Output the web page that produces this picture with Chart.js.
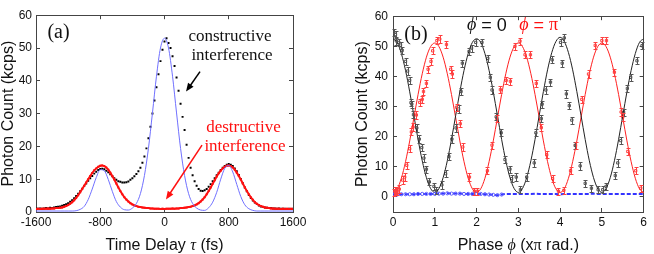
<!DOCTYPE html>
<html>
<head>
<meta charset="utf-8">
<script src="https://cdn.jsdelivr.net/npm/chart.js@4.4.1/dist/chart.umd.min.js"></script>
<style>
  html, body { margin: 0; padding: 0; background: #fff; }
  #wrap { position: relative; width: 654px; height: 254px; }
  canvas { position: absolute; top: 0; }
  #chartA { left: 0; }
  #chartB { left: 330px; }
</style>
</head>
<body>
<div id="wrap">
  <canvas id="chartA" width="330" height="254"></canvas>
  <canvas id="chartB" width="324" height="254"></canvas>
</div>
<script>
// ---- panel (a): time delay scan ----
const delayFs = [
  -1600,-1575,-1550,-1525,-1500,-1475,-1450,-1425,
  -1400,-1375,-1350,-1325,-1300,-1275,-1250,-1225,
  -1200,-1175,-1150,-1125,-1100,-1075,-1050,-1025,
  -1000,-975,-950,-925,-900,-875,-850,-825,
  -800,-775,-750,-725,-700,-675,-650,-625,
  -600,-575,-550,-525,-500,-475,-450,-425,
  -400,-375,-350,-325,-300,-275,-250,-225,
  -200,-175,-150,-125,-100,-75,-50,-25,
  0,25,50,75,100,125,150,175,
  200,225,250,275,300,325,350,375,
  400,425,450,475,500,525,550,575,
  600,625,650,675,700,725,750,775,
  800,825,850,875,900,925,950,975,
  1000,1025,1050,1075,1100,1125,1150,1175,
  1200,1225,1250,1275,1300,1325,1350,1375,
  1400,1425,1450,1475,1500,1525,1550,1575,
  1600
]
const constructive = [
  1.0,1.0,1.1,1.0,1.1,1.2,1.1,1.3,
  1.2,1.4,1.5,1.6,1.7,1.9,2.1,2.4,
  2.7,3.1,3.6,4.2,4.9,5.6,6.3,7.1,
  7.9,8.7,9.5,10.3,11.0,11.7,12.3,12.8,
  13.1,13.2,13.0,12.6,12.1,11.5,10.9,10.3,
  9.8,9.4,9.2,9.0,9.0,9.1,9.3,9.8,
  10.3,10.9,11.6,12.4,13.5,15.0,16.9,19.4,
  22.5,26.0,30.0,34.0,38.0,42.0,46.0,49.5,
  52.0,53.0,51.5,50.0,47.5,44.5,41.0,37.0,
  33.0,29.0,25.0,20.5,16.5,13.5,11.2,9.4,
  8.0,7.0,6.5,6.4,6.6,7.0,7.7,8.5,
  9.4,10.3,11.2,12.0,12.8,13.5,14.0,14.4,
  14.6,14.4,14.0,13.3,12.4,11.3,10.1,8.8,
  7.5,6.3,5.2,4.3,3.5,2.9,2.4,2.0,
  1.7,1.5,1.4,1.3,1.2,1.2,1.1,1.1,
  1.0,1.1,1.0,1.0,1.0,0.9,1.0,0.9,
  1.0
]
const destructive = [
  0.9,1.0,0.9,1.0,1.0,1.0,1.1,1.0,
  1.1,1.1,1.2,1.2,1.3,1.4,1.6,1.8,
  2.1,2.5,3.0,3.6,4.3,5.1,6.0,7.0,
  8.0,9.0,10.0,11.0,11.9,12.7,13.3,13.8,
  14.1,14.2,14.0,13.6,12.9,12.0,11.0,9.9,
  8.7,7.5,6.4,5.4,4.5,3.8,3.2,2.7,
  2.3,2.0,1.8,1.6,1.5,1.4,1.3,1.2,
  1.2,1.1,1.1,1.0,1.0,1.0,0.9,1.0,
  0.9,1.0,1.0,1.0,1.1,1.0,1.1,1.1,
  1.2,1.2,1.3,1.4,1.5,1.6,1.8,2.0,
  2.3,2.7,3.2,3.8,4.5,5.4,6.4,7.5,
  8.6,9.7,10.8,11.8,12.6,13.3,13.8,14.1,
  14.2,14.0,13.6,12.9,12.0,11.0,9.9,8.7,
  7.5,6.4,5.4,4.5,3.7,3.0,2.5,2.1,
  1.8,1.6,1.4,1.3,1.2,1.1,1.1,1.0,
  1.0,1.0,0.9,1.0,0.9,1.0,0.9,1.0,
  0.9
]
const fitDelayFs = [
  -1600,-1550,-1500,-1450,-1400,-1350,-1300,-1250,
  -1200,-1150,-1100,-1050,-1000,-950,-900,-850,
  -800,-750,-700,-650,-600,-550,-500,-450,
  -400,-350,-300,-250,-200,-150,-100,-50,
  0,50,100,150,200,250,300,350,
  400,450,500,550,600,650,700,750,
  800,850,900,950,1000,1050,1100,1150,
  1200,1250,1300,1350,1400,1450,1500,1550,
  1600
]
const fitCount = [
  0.3,0.3,0.3,0.3,0.3,0.3,0.3,0.3,
  0.3,0.3,0.4,0.8,1.7,3.8,7.0,10.5,
  12.9,12.6,9.9,6.3,3.2,1.5,0.7,0.6,
  1.2,2.6,5.6,11.1,19.4,30.2,41.4,50.0,
  53.0,50.0,41.4,30.2,19.4,11.1,5.6,2.6,
  1.2,0.6,0.5,1.3,3.0,6.0,10.0,13.3,
  14.2,12.2,8.4,4.7,2.2,1.0,0.5,0.3,
  0.3,0.3,0.3,0.3,0.3,0.3,0.3,0.3,
  0.3
]
const delayTicks = [-1600, -800, 0, 800, 1600]
const countTicksA = [0, 10, 20, 30, 40, 50, 60]

// ---- panel (b): phase scan ----
const phaseGrid = [
  0,0.1,0.2,0.3,0.4,0.5,0.6,0.7,0.8,0.9,
  1,1.1,1.2,1.3,1.4,1.5,1.6,1.7,1.8,1.9,
  2,2.1,2.2,2.3,2.4,2.5,2.6,2.7,2.8,2.9,
  3,3.1,3.2,3.3,3.4,3.5,3.6,3.7,3.8,3.9,
  4,4.1,4.2,4.3,4.4,4.5,4.6,4.7,4.8,4.9,
  5,5.1,5.2,5.3,5.4,5.5,5.6,5.7,5.8,5.9,
  6
]
const fitPhase0 = [
  52.5,51.3,47.6,42.0,34.9,27.0,19.1,12.0,6.4,2.8,
  1.5,2.8,6.4,12.0,19.1,27.0,34.9,42.0,47.6,51.3,
  52.5,51.3,47.6,42.0,34.9,27.0,19.1,12.0,6.4,2.8,
  1.5,2.8,6.4,12.0,19.1,27.1,35.0,42.2,47.9,51.6,
  53.0,51.6,47.9,42.2,35.0,27.1,19.1,12.0,6.4,2.8,
  1.5,2.8,6.4,12.0,19.1,27.0,34.9,42.0,47.6,51.3,
  52.5
]
const fitPhasePi = [
  1.5,2.7,6.2,11.7,18.6,26.3,34.0,40.9,46.4,49.9,
  51.1,49.9,46.4,40.9,34.0,26.3,18.6,11.7,6.2,2.7,
  1.5,2.7,6.2,11.7,18.6,26.3,34.0,40.9,46.4,49.9,
  51.1,49.9,46.4,40.9,34.0,26.3,18.6,11.7,6.2,2.7,
  1.5,2.7,6.2,11.7,18.6,26.3,34.0,40.9,46.4,49.9,
  51.1,49.9,46.4,40.9,34.0,26.3,18.6,11.7,6.2,2.7,
  1.5
]
const background = [
  0.8,0.8,0.9,0.9,0.9,0.9,1.0,1.0,1.0,1.0,
  1.0,1.1,1.1,1.2,1.1,1.1,1.1,1.0,1.0,1.0,
  1.0,1.0,0.9,0.8,0.7,0.6,0.8,1.0,1.0,1.0,
  1.0,1.0,1.0,1.0,1.1,1.0,1.0,1.0,1.0,1.0,
  0.9,1.0,1.0,1.0,1.0,1.0,1.0,1.0,1.1,1.0,
  1.0,1.0,1.0,1.0,1.0,1.0,1.0,1.0,1.0,1.0,
  1.0
]
const phase0X = [
  0.02,0.06,0.08,0.14,0.18,0.22,0.30,0.35,0.40,0.43,
  0.45,0.49,0.57,0.63,0.69,0.74,0.80,0.87,0.98,1.04,
  1.17,1.26,1.34,1.41,1.51,1.57,1.63,1.66,1.82,1.88,
  1.98,2.13,2.27,2.33,2.37,2.47,2.59,2.68,2.80,2.84,
  2.95,3.05,3.20,3.38,3.42,3.55,3.57,3.66,3.77,3.81,
  4.01,4.05,4.10,4.15,4.22,4.28,4.36,4.48,4.60,4.75,
  4.91,5.02,5.10,5.32,5.38,5.45,5.52,5.61,5.69,5.84,
  5.96
]
const phase0Y = [
  54.6,53.9,51.8,51.3,50.4,48.6,45.0,41.8,38.7,31.3,
  30.8,27.3,22.9,19.2,16.4,12.9,9.2,5.0,3.5,2.1,
  4.0,7.7,13.4,19.2,22.9,29.2,35.0,44.4,48.3,49.4,
  51.3,51.3,46.0,39.7,35.5,26.6,21.3,12.4,9.2,6.1,
  6.6,2.4,6.6,11.3,21.3,26.0,30.8,35.5,38.1,45.5,
  51.3,44.4,52.8,34.2,30.3,25.5,17.1,10.3,4.5,2.9,
  2.4,2.4,3.5,7.1,11.3,18.7,28.1,36.0,39.7,45.2,
  50.2
]
const phasePiX = [
  0.02,0.05,0.07,0.10,0.15,0.23,0.28,0.33,0.40,0.44,
  0.48,0.56,0.64,0.70,0.73,0.80,0.84,0.91,0.95,1.05,
  1.12,1.28,1.38,1.42,1.52,1.61,1.67,1.83,1.95,2.02,
  2.26,2.37,2.48,2.57,2.71,2.81,2.92,3.04,3.16,3.29,
  3.43,3.55,3.68,3.82,3.96,4.09,4.25,4.37,4.52,4.68,
  4.84,5.00,5.11,5.30,5.46,5.50,5.62,5.81,5.93
]
const phasePiY = [
  1.5,2.0,2.1,1.8,2.6,5.6,6.6,10.5,16.0,21.6,
  23.2,27.2,31.4,32.4,35.0,37.7,42.4,45.0,48.5,51.9,
  52.4,50.6,42.4,40.8,29.8,24.3,16.6,6.6,1.9,1.9,
  8.7,17.2,26.1,35.6,38.7,38.4,50.0,51.7,47.2,47.2,
  37.7,23.0,14.0,6.1,1.9,2.2,8.7,17.1,32.4,40.8,
  50.3,51.9,51.9,41.4,28.2,26.5,15.1,8.7,2.9
]
const phaseTicks = [0, 1, 2, 3, 4, 5, 6]
const countTicksB = [0, 10, 20, 30, 40, 50, 60]

const SANS = '"Liberation Sans", Arial, sans-serif'
const SERIF = '"Liberation Serif", "Times New Roman", "DejaVu Serif", serif'
const frame = '#444'
const ink = '#111'

Chart.defaults.font.family = SANS
Chart.defaults.color = ink

const pts = (xs, ys) => xs.map((x, i) => ({ x: x, y: ys[i] }))

// axis with inward ticks; size forced so both panels land where the original does
function axis(position, min, max, tickVals, size, extra) {
  const horiz = position === 'top' || position === 'bottom'
  return Object.assign({
    type: 'linear', position: position, min: min, max: max,
    grid: { drawOnChartArea: false, drawTicks: true, tickLength: -4, color: frame },
    border: { display: true, color: frame, width: 1 },
    ticks: { display: false },
    afterBuildTicks: s => { s.ticks = tickVals.map(v => ({ value: v })) },
    afterFit: s => { if (horiz) s.height = size; else s.width = size }
  }, extra || {})
}

const tickLabels = (pad) => ({
  display: true, padding: pad, color: ink, maxRotation: 0,
  font: { family: SANS, size: 12 },
  callback: v => String(v)
})

function drawRuns(ctx, runs, x, y, align) {
  ctx.save()
  ctx.textBaseline = 'middle'
  ctx.textAlign = 'left'
  let w = 0
  runs.forEach(r => { ctx.font = r.font; w += ctx.measureText(r.text).width })
  let cx = align === 'left' ? x : x - w / 2
  runs.forEach(r => {
    ctx.font = r.font
    ctx.fillStyle = r.color || ink
    ctx.fillText(r.text, cx, y)
    cx += ctx.measureText(r.text).width
  })
  ctx.restore()
}

function drawArrow(ctx, x1, y1, x2, y2, color) {
  const ang = Math.atan2(y2 - y1, x2 - x1), head = 9
  ctx.save()
  ctx.strokeStyle = color
  ctx.fillStyle = color
  ctx.lineWidth = 1.5
  ctx.beginPath()
  ctx.moveTo(x1, y1)
  ctx.lineTo(x2 - Math.cos(ang) * head * 0.7, y2 - Math.sin(ang) * head * 0.7)
  ctx.stroke()
  ctx.beginPath()
  ctx.moveTo(x2, y2)
  ctx.lineTo(x2 - head * Math.cos(ang - 0.38), y2 - head * Math.sin(ang - 0.38))
  ctx.lineTo(x2 - head * Math.cos(ang + 0.38), y2 - head * Math.sin(ang + 0.38))
  ctx.closePath()
  ctx.fill()
  ctx.restore()
}

const notes = {
  id: 'notes',
  afterDraw(chart, args, opts) {
    const ctx = chart.ctx, xs = chart.scales.x, ys = chart.scales.y
    ;(opts.texts || []).forEach(n => {
      drawRuns(ctx, n.runs, xs.getPixelForValue(n.x), ys.getPixelForValue(n.y), n.align)
    })
    ;(opts.arrows || []).forEach(a => {
      drawArrow(ctx, xs.getPixelForValue(a.from[0]), ys.getPixelForValue(a.from[1]),
        xs.getPixelForValue(a.to[0]), ys.getPixelForValue(a.to[1]), a.color)
    })
    if (opts.xTitle) {
      const area = chart.chartArea
      drawRuns(ctx, opts.xTitle, (area.left + area.right) / 2, area.bottom + 34, 'center')
    }
  }
}

// small vertical error bars with caps
const errorBars = {
  id: 'errorBars',
  afterDatasetsDraw(chart) {
    const ctx = chart.ctx
    chart.data.datasets.forEach((ds, i) => {
      if (!ds.errorBar) return
      const meta = chart.getDatasetMeta(i)
      const ys = chart.scales[meta.yAxisID]
      ctx.save()
      ctx.strokeStyle = ds.borderColor
      ctx.lineWidth = 1
      meta.data.forEach((el, j) => {
        const v = ds.data[j].y
        const top = Math.round(ys.getPixelForValue(v + ds.errorBar)) + 0.5
        const bot = Math.round(ys.getPixelForValue(v - ds.errorBar)) + 0.5
        const x = Math.round(el.x) + 0.5
        ctx.beginPath()
        ctx.moveTo(x, top); ctx.lineTo(x, bot)
        ctx.moveTo(x - 2, top); ctx.lineTo(x + 2, top)
        ctx.moveTo(x - 2, bot); ctx.lineTo(x + 2, bot)
        ctx.stroke()
      })
      ctx.restore()
    })
  }
}

const yTitle = (pad) => ({
  display: true, text: 'Photon Count (kcps)', color: ink,
  font: { family: SANS, size: 16 }, padding: { top: pad, bottom: 0 }
})

new Chart(document.getElementById('chartA'), {
  type: 'scatter',
  data: {
    datasets: [
      {
        data: pts(fitDelayFs, fitCount), showLine: true, borderColor: '#7070ff',
        borderWidth: 1, pointRadius: 0, cubicInterpolationMode: 'monotone'
      },
      {
        data: pts(delayFs, destructive), showLine: true, borderColor: '#ff1010',
        borderWidth: 2, pointRadius: 1.4, pointStyle: 'rect',
        pointBackgroundColor: '#ff1010', pointBorderWidth: 0
      },
      {
        data: pts(delayFs, constructive), showLine: false, pointRadius: 1.4,
        pointStyle: 'rect', pointBackgroundColor: '#000', pointBorderWidth: 0
      }
    ]
  },
  options: {
    responsive: false,
    animation: false,
    layout: { padding: 0 },
    plugins: {
      legend: { display: false },
      tooltip: { enabled: false },
      notes: {
        texts: [
          { x: -1320, y: 54.5, runs: [{ text: '(a)', font: '20px ' + SERIF }] },
          { x: 815, y: 53.6, runs: [{ text: 'constructive', font: '17px ' + SERIF }] },
          { x: 840, y: 47.8, runs: [{ text: 'interference', font: '17px ' + SERIF }] },
          { x: 983, y: 25.9, runs: [{ text: 'destructive', font: '17px ' + SERIF, color: '#ff1010' }] },
          { x: 1002, y: 20.1, runs: [{ text: 'interference', font: '17px ' + SERIF, color: '#ff1010' }] }
        ],
        arrows: [
          { from: [442, 42.8], to: [268, 36.7], color: '#000' },
          { from: [467, 20.4], to: [18, 3.8], color: '#ff1010' }
        ],
        xTitle: [
          { text: 'Time Delay ', font: '16px ' + SANS },
          { text: 'τ', font: 'italic 16px ' + SERIF },
          { text: ' (fs)', font: '16px ' + SANS }
        ]
      }
    },
    scales: {
      x: axis('bottom', -1600, 1600, delayTicks, 42, { ticks: tickLabels(7) }),
      y: axis('left', 0, 60, countTicksA, 36, { ticks: tickLabels(8), title: yTitle(-1) }),
      xT: axis('top', -1600, 1600, delayTicks, 6),
      yR: axis('right', 0, 60, countTicksA, 37)
    }
  },
  plugins: [notes]
})

new Chart(document.getElementById('chartB'), {
  type: 'scatter',
  data: {
    datasets: [
      {
        data: pts(phaseGrid, background), showLine: true, borderColor: '#3333ff',
        borderWidth: 2, borderDash: [4, 2],
        pointRadius: c => (c.raw && c.raw.x < 2.7 ? 1.6 : 0),
        pointBorderColor: '#5a5aff', pointBackgroundColor: 'rgba(0,0,0,0)', pointBorderWidth: 1
      },
      {
        data: pts(phaseGrid, fitPhase0), showLine: true, borderColor: '#222',
        borderWidth: 1, pointRadius: 0, cubicInterpolationMode: 'monotone'
      },
      {
        data: pts(phaseGrid, fitPhasePi), showLine: true, borderColor: '#ff2020',
        borderWidth: 1, pointRadius: 0, cubicInterpolationMode: 'monotone'
      },
      {
        data: pts(phase0X, phase0Y), showLine: false, errorBar: 1.2,
        borderColor: '#555', pointStyle: 'rect', pointRadius: 1.6,
        pointBorderColor: '#555', pointBackgroundColor: 'rgba(0,0,0,0)', pointBorderWidth: 1
      },
      {
        data: pts(phasePiX, phasePiY), showLine: false, errorBar: 1.2,
        borderColor: '#ff4040', pointStyle: 'rect', pointRadius: 1.6,
        pointBorderColor: '#ff4040', pointBackgroundColor: 'rgba(0,0,0,0)', pointBorderWidth: 1
      }
    ]
  },
  options: {
    responsive: false,
    animation: false,
    layout: { padding: 0 },
    plugins: {
      legend: { display: false },
      tooltip: { enabled: false },
      notes: {
        texts: [
          { x: 0.27, y: 54, align: 'left', runs: [{ text: '(b)', font: '20px ' + SERIF }] },
          { x: 1.77, y: 56.9, align: 'left', runs: [
            { text: 'ϕ', font: 'italic 18px ' + SERIF },
            { text: ' = 0', font: '18px ' + SANS }
          ] },
          { x: 3.02, y: 56.9, align: 'left', runs: [
            { text: 'ϕ', font: 'italic 18px ' + SERIF, color: '#ff1010' },
            { text: ' = ', font: '18px ' + SANS, color: '#ff1010' },
            { text: 'π', font: '18px ' + SERIF, color: '#ff1010' }
          ] }
        ],
        xTitle: [
          { text: 'Phase ', font: '16px ' + SANS },
          { text: 'ϕ', font: 'italic 16px ' + SERIF },
          { text: ' (x', font: '16px ' + SANS },
          { text: 'π', font: '16px ' + SERIF },
          { text: ' rad.)', font: '16px ' + SANS }
        ]
      }
    },
    scales: {
      x: axis('bottom', 0, 6, phaseTicks, 42, { ticks: tickLabels(7) }),
      y: axis('left', -5, 60, countTicksB, 63, { ticks: tickLabels(9), title: yTitle(23) }),
      xT: axis('top', 0, 6, phaseTicks, 6),
      yR: axis('right', -5, 60, countTicksB, 5)
    }
  },
  plugins: [notes, errorBars]
})
</script>
</body>
</html>
